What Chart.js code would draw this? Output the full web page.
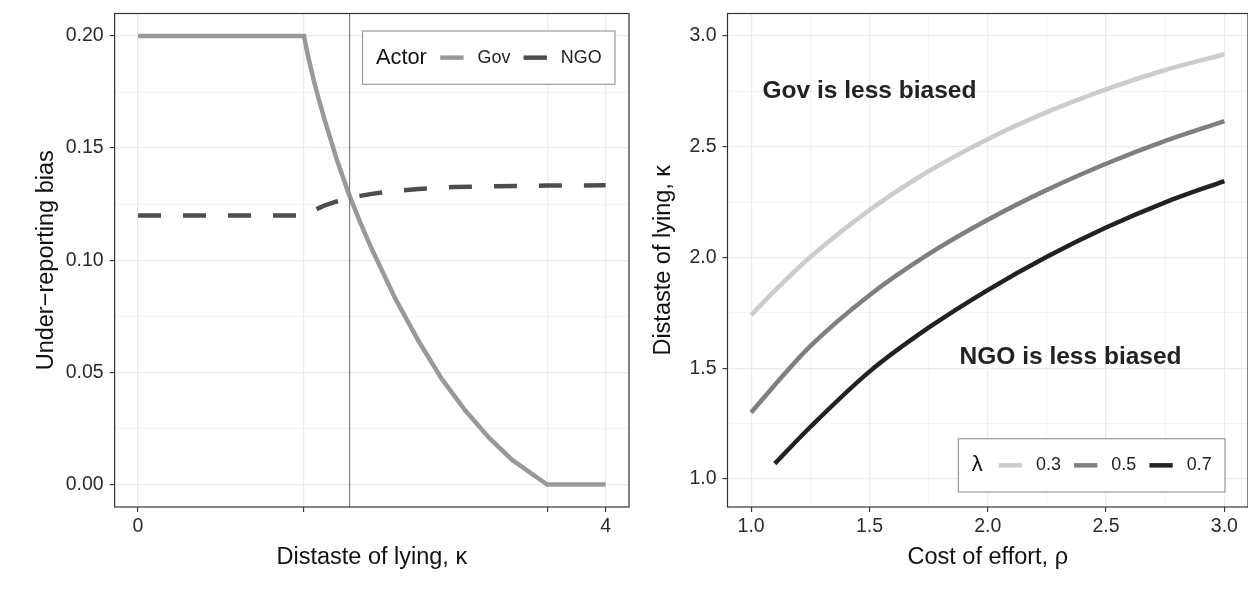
<!DOCTYPE html>
<html>
<head>
<meta charset="utf-8">
<script src="https://cdn.jsdelivr.net/npm/chart.js@4.4.0/dist/chart.umd.min.js"></script>
<style>
html, body { margin: 0; padding: 0; background: #fff; overflow: hidden; }
#left { position: absolute; left: 0; top: 0; }
#right { position: absolute; left: 640px; top: 0; }
</style>
</head>
<body>
<canvas id="left" width="640" height="592"></canvas>
<canvas id="right" width="610" height="592"></canvas>
<script>
Chart.defaults.font.family = "'Liberation Sans', Arial, sans-serif";
Chart.defaults.color = '#333';

// left panel: under-reporting bias against distaste of lying
const actorNames = ['Gov', 'NGO'];
const kappaGov = [0, 1.42, 1.45, 1.5, 1.55, 1.6, 1.7, 1.8, 1.9, 2.0, 2.2, 2.4, 2.6, 2.8, 3.0, 3.2, 3.5, 4];
const biasGov = [0.2, 0.2, 0.192, 0.181, 0.171, 0.162, 0.145, 0.13, 0.117, 0.105, 0.083, 0.064, 0.047, 0.033, 0.021, 0.011, 0, 0];
const kappaNgo = [0, 1.42, 1.5, 1.6, 1.7, 1.8, 1.9, 2.0, 2.2, 2.4, 2.7, 3.0, 3.5, 4];
const biasNgo = [0.12, 0.12, 0.1222, 0.1245, 0.1262, 0.1276, 0.1287, 0.1296, 0.1309, 0.1318, 0.1326, 0.133, 0.1333, 0.1334];
const kappaCut = 1.81;
const kappaTicks = [0, 1.42, 3.5, 4];
const kappaTickLabels = ['0', '', '', '4'];
const biasTicks = [0, 0.05, 0.1, 0.15, 0.2];
const biasTickLabels = ['0.00', '0.05', '0.10', '0.15', '0.20'];
const biasMinor = [0.025, 0.075, 0.125, 0.175];

// right panel: threshold kappa against cost of effort
const lambdaLevels = ['0.3', '0.5', '0.7'];
const rho = [1.0, 1.1, 1.25, 1.5, 1.75, 2.0, 2.25, 2.5, 2.75, 3.0];
const kappa03 = [1.74, 1.85, 2.002, 2.214, 2.389, 2.534, 2.656, 2.759, 2.846, 2.917];
const kappa05 = [1.3, 1.425, 1.6, 1.83, 2.015, 2.17, 2.305, 2.423, 2.526, 2.615];
const rho07 = [1.1, 1.25, 1.5, 1.75, 2.0, 2.25, 2.5, 2.75, 3.0];
const kappa07 = [1.07, 1.235, 1.485, 1.683, 1.853, 2.003, 2.135, 2.249, 2.345];
const rhoTicks = [1, 1.5, 2, 2.5, 3];
const rhoTickLabels = ['1.0', '1.5', '2.0', '2.5', '3.0'];
const rhoMinor = [1.25, 1.75, 2.25, 2.75];
const kappaTicksR = [1, 1.5, 2, 2.5, 3];
const kappaTickLabelsR = ['1.0', '1.5', '2.0', '2.5', '3.0'];
const kappaMinorR = [1.25, 1.75, 2.25, 2.75];

const notesRight = [
    { text: 'Gov is less biased', x: 1.5, y: 2.75 },
    { text: 'NGO is less biased', x: 2.35, y: 1.55 }
];

const actorColors = ['#999999', '#4d4d4d'];
const lambdaColors = ['#cccccc', '#7f7f7f', '#222222'];

function points(xs, ys) {
    return xs.map((x, i) => ({ x: x, y: ys[i] }));
}

// axis with fixed breaks, minor grid lines and a fixed box size
function axis(position, min, max, major, labels, minor, size, title, titlePad) {
    var horizontal = position == 'bottom';
    return {
        type: 'linear',
        position: position,
        min: min,
        max: max,
        afterBuildTicks: a => {
            a.ticks = major.map(v => ({ value: v })).concat(minor.map(v => ({ value: v, minor: true })));
        },
        afterFit: s => {
            if (horizontal) s.height = size;
            else s.width = size;
            s.paddingTop = 0;
            s.paddingBottom = 0;
            s.paddingLeft = 0;
            s.paddingRight = 0;
        },
        ticks: {
            autoSkip: false,
            maxRotation: 0,
            padding: horizontal ? 3.3 : 6,
            color: '#2b2b2b',
            font: { size: 19.5 },
            callback: value => {
                var i = major.indexOf(value);
                return i < 0 ? '' : labels[i];
            }
        },
        grid: {
            color: c => c.tick && c.tick.minor ? '#f1f1f1' : '#ebebeb',
            lineWidth: c => c.tick && c.tick.minor ? 0.8 : 1.2,
            tickColor: c => c.tick && c.tick.minor ? 'rgba(0,0,0,0)' : '#333',
            tickLength: 5,
            tickWidth: 1.1
        },
        border: { display: false },
        title: {
            display: true,
            text: title,
            color: '#111',
            font: { size: 23.5 },
            padding: titlePad
        }
    };
}

// frame round the plot area
const panelBorder = {
    id: 'panelBorder',
    afterDatasetsDraw(chart) {
        var a = chart.chartArea, ctx = chart.ctx;
        ctx.save();
        ctx.strokeStyle = '#333';
        ctx.lineWidth = 1.2;
        ctx.strokeRect(a.left, a.top, a.right - a.left, a.bottom - a.top);
        ctx.restore();
    }
};

// text annotations in data coordinates
const notes = {
    id: 'notes',
    afterDatasetsDraw(chart, args, o) {
        if (!o.items) return;
        var ctx = chart.ctx, xs = chart.scales.x, ys = chart.scales.y;
        ctx.save();
        ctx.font = "bold 24.5px 'Liberation Sans', Arial, sans-serif";
        ctx.fillStyle = '#222';
        ctx.textAlign = 'center';
        ctx.textBaseline = 'middle';
        o.items.forEach(n => ctx.fillText(n.text, xs.getPixelForValue(n.x), ys.getPixelForValue(n.y)));
        ctx.restore();
    }
};

// horizontal legend in a box, inside the panel
const boxLegend = {
    id: 'boxLegend',
    afterDraw(chart, args, o) {
        if (!o.items) return;
        var ctx = chart.ctx, area = chart.chartArea;
        var titleFont = "21.8px 'Liberation Sans', Arial, sans-serif";
        var itemFont = "17.9px 'Liberation Sans', Arial, sans-serif";
        var keyLen = 23.3, keyGap = 14, itemGap = 13.2, pad = 13.4, h = 53.3;
        ctx.save();
        ctx.font = titleFont;
        var titleW = ctx.measureText(o.title).width;
        var w = pad + titleW + o.titleGap;
        ctx.font = itemFont;
        o.items.forEach((it, i) => {
            w += keyLen + keyGap + ctx.measureText(it.label).width;
            if (i < o.items.length - 1) w += itemGap;
        });
        w += pad;
        var x0 = area.right - o.right - w;
        var y0 = o.top != null ? area.top + o.top : area.bottom - o.bottom - h;
        ctx.fillStyle = '#fff';
        ctx.fillRect(x0, y0, w, h);
        ctx.strokeStyle = '#999';
        ctx.lineWidth = 1.2;
        ctx.strokeRect(x0, y0, w, h);

        var cy = y0 + h / 2;
        var x = x0 + pad;
        ctx.textAlign = 'left';
        ctx.textBaseline = 'middle';
        ctx.fillStyle = '#111';
        ctx.font = titleFont;
        ctx.fillText(o.title, x, cy);
        x += titleW + o.titleGap;
        ctx.font = itemFont;
        o.items.forEach(it => {
            ctx.strokeStyle = it.color;
            ctx.lineWidth = 4.5;
            ctx.beginPath();
            ctx.moveTo(x, cy);
            ctx.lineTo(x + keyLen, cy);
            ctx.stroke();
            x += keyLen + keyGap;
            ctx.fillStyle = '#222';
            ctx.fillText(it.label, x, cy);
            x += ctx.measureText(it.label).width + itemGap;
        });
        ctx.restore();
    }
};

new Chart(document.getElementById('left').getContext('2d'), {
    type: 'line',
    data: {
        datasets: [
            {
                data: points([kappaCut, kappaCut], [-0.01, 0.21]),
                borderColor: '#808080',
                borderWidth: 1.2,
                pointRadius: 0
            },
            {
                data: points(kappaNgo, biasNgo),
                borderColor: actorColors[1],
                borderWidth: 4.5,
                borderDash: [23, 22],
                borderCapStyle: 'butt',
                pointRadius: 0,
                tension: 0
            },
            {
                data: points(kappaGov, biasGov),
                borderColor: actorColors[0],
                borderWidth: 4.5,
                pointRadius: 0,
                tension: 0
            }
        ]
    },
    options: {
        responsive: false,
        animation: false,
        devicePixelRatio: 1,
        events: [],
        layout: { padding: { left: 0, top: 13.5, right: 11, bottom: 0 } },
        scales: {
            x: axis('bottom', -0.2, 4.2, kappaTicks, kappaTickLabels, [], 85, 'Distaste of lying, κ', { top: 0, bottom: 19.9 }),
            y: axis('left', -0.01, 0.21, biasTicks, biasTickLabels, biasMinor, 114.6, 'Under\u2212reporting bias', { top: 32.9, bottom: 0 })
        },
        plugins: {
            legend: { display: false },
            tooltip: { enabled: false },
            boxLegend: {
                title: 'Actor',
                titleGap: 13.4,
                right: 14,
                top: 17.5,
                items: actorNames.map((n, i) => ({ label: n, color: actorColors[i] }))
            }
        }
    },
    plugins: [panelBorder, boxLegend]
});

new Chart(document.getElementById('right').getContext('2d'), {
    type: 'line',
    data: {
        datasets: [
            { data: points(rho, kappa03), borderColor: lambdaColors[0] },
            { data: points(rho, kappa05), borderColor: lambdaColors[1] },
            { data: points(rho07, kappa07), borderColor: lambdaColors[2] }
        ].map(d => Object.assign(d, { borderWidth: 4.5, pointRadius: 0, cubicInterpolationMode: 'monotone' })).reverse()
    },
    options: {
        responsive: false,
        animation: false,
        devicePixelRatio: 1,
        events: [],
        layout: { padding: { left: 0, top: 13.5, right: 2, bottom: 0 } },
        scales: {
            x: axis('bottom', 0.9, 3.1, rhoTicks, rhoTickLabels, rhoMinor, 85, 'Cost of effort, ρ', { top: 0, bottom: 19.9 }),
            y: axis('left', 0.874, 3.101, kappaTicksR, kappaTickLabelsR, kappaMinorR, 87.5, 'Distaste of lying, κ', { top: 9.9, bottom: 0 })
        },
        plugins: {
            legend: { display: false },
            tooltip: { enabled: false },
            notes: { items: notesRight },
            boxLegend: {
                title: 'λ',
                titleGap: 16,
                right: 23,
                bottom: 15,
                items: lambdaLevels.map((n, i) => ({ label: n, color: lambdaColors[i] }))
            }
        }
    },
    plugins: [panelBorder, notes, boxLegend]
});
</script>
</body>
</html>
